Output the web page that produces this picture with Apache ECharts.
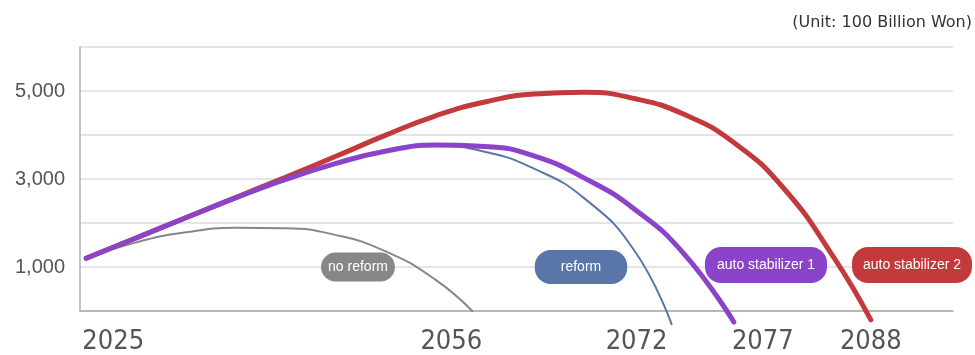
<!DOCTYPE html>
<html lang="en">
<head>
<meta charset="utf-8">
<title>Fund projection</title>
<script src="https://cdn.jsdelivr.net/npm/echarts@6/dist/echarts.min.js"></script>
<style>
	html, body { margin: 0; padding: 0; background: #fff; }
	#main { width: 975px; height: 355px; }
</style>
</head>
<body>
<div id="main"></div>
<script type="text/javascript">
	// values, unit: 100 billion won
	var noReformYears = [2025, 2029, 2033, 2037, 2041, 2045, 2049, 2053, 2056];
	var noReformValues = [1200, 1560, 1790, 1890, 1880, 1730, 1360, 720, 0];

	var reformYears = [2025, 2029, 2033, 2037, 2041, 2045, 2049, 2053, 2057, 2061, 2065, 2069, 2072];
	var reformValues = [1200, 1660, 2120, 2570, 2990, 3350, 3620, 3750, 3620, 3230, 2560, 1380, -300];

	var auto1Years = [2025, 2029, 2033, 2037, 2041, 2045, 2049, 2053, 2057, 2061, 2065, 2069, 2073, 2077];
	var auto1Values = [1200, 1660, 2120, 2570, 2990, 3350, 3630, 3770, 3740, 3520, 3020, 2320, 1300, -250];

	var auto2Years = [2025, 2029, 2033, 2037, 2041, 2045, 2049, 2053, 2057, 2061, 2065, 2069, 2073, 2077, 2081, 2085, 2088];
	var auto2Values = [1200, 1660, 2120, 2580, 3040, 3510, 3990, 4430, 4750, 4930, 4970, 4830, 4470, 3830, 2790, 1230, -200];

	var seriesNames = ['no reform', 'reform', 'auto stabilizer 1', 'auto stabilizer 2'];
	var yearTicks = [2025, 2056, 2072, 2077, 2088];
	var valueTicks = [1000, 3000, 5000];
	var unitText = '(Unit: 100 Billion Won)';

	function pairs(xs, ys) {
		var out = [];
		for (var i = 0; i < xs.length; i++) {
			out.push([xs[i], ys[i]]);
		}
		return out;
	}

	// year labels sit a little off their points in the original
	var nudge = { 2025: 27, 2056: -21, 2072: -35, 2077: 29, 2088: 0 };
	var rich = {};
	yearTicks.forEach(function (y) {
		var d = nudge[y];
		rich['y' + y] = {
			fontSize: 27,
			fontFamily: '"Liberation Sans Narrow", "DejaVu Sans Condensed", sans-serif',
			color: '#555',
			padding: d >= 0 ? [0, 0, 0, 2 * d] : [0, -2 * d, 0, 0]
		};
	});

	var colors = ['#878787', '#5a76a8', '#8a43c9', '#c23a3b'];
	var widths = [2, 2, 5, 5];
	var data = [
		pairs(noReformYears, noReformValues),
		pairs(reformYears, reformValues),
		pairs(auto1Years, auto1Values),
		pairs(auto2Years, auto2Values)
	];

	// draw order: gray, blue, red, purple on top
	var order = [0, 1, 3, 2];
	var series = order.map(function (k) {
		return {
			name: seriesNames[k],
			type: 'line',
			data: data[k],
			smooth: 0.5,
			showSymbol: false,
			clip: false,
			lineStyle: { color: colors[k], width: widths[k], cap: 'round' },
			itemStyle: { color: colors[k] }
		};
	});

	// pill tags, one per scenario
	var pills = [
		{ x: 358, y: 267, pad: [8, 7, 7, 7] },
		{ x: 581, y: 267, pad: [10, 26, 10, 26] },
		{ x: 766, y: 265, pad: [11, 12, 11, 12] },
		{ x: 912, y: 265, pad: [11, 11, 11, 11] }
	];
	var graphics = pills.map(function (p, k) {
		return {
			type: 'text',
			x: p.x,
			y: p.y,
			z: 10,
			style: {
				text: seriesNames[k],
				fill: '#fff',
				fontSize: 14,
				fontFamily: '"Liberation Sans", Arial, sans-serif',
				align: 'center',
				verticalAlign: 'middle',
				backgroundColor: colors[k],
				borderRadius: 16,
				padding: p.pad
			}
		};
	});

	var myChart = echarts.init(document.getElementById('main'));
	var option = {
		backgroundColor: '#fff',
		animation: false,
		title: {
			text: unitText,
			right: 3,
			top: 15,
			padding: 0,
			textStyle: {
				fontSize: 16,
				fontWeight: 'normal',
				fontFamily: '"DejaVu Sans", sans-serif',
				color: '#333'
			}
		},
		grid: { left: 80, right: 22, top: 47, bottom: 44 },
		xAxis: {
			type: 'value',
			min: 2024.5,
			max: 2094.6,
			axisLine: { show: true, lineStyle: { color: '#a8a8a8', width: 1.5 } },
			axisTick: { show: false },
			splitLine: { show: false },
			axisLabel: {
				customValues: yearTicks,
				margin: 17,
				formatter: function (v) {
					return '{y' + v + '|' + v + '}';
				},
				rich: rich
			}
		},
		yAxis: {
			type: 'value',
			min: 0,
			max: 6000,
			interval: 1000,
			axisLine: { show: true, lineStyle: { color: '#b0b0b0', width: 1.5 } },
			axisTick: { show: false },
			splitLine: { lineStyle: { color: '#dcdcdc', width: 1.5 } },
			axisLabel: {
				customValues: valueTicks,
				margin: 15,
				fontSize: 20,
				fontFamily: '"Liberation Sans", Arial, sans-serif',
				color: '#555',
				formatter: function (v) {
					return v.toLocaleString('en-US');
				}
			}
		},
		series: series,
		graphic: graphics
	};
	myChart.setOption(option);
</script>
</body>
</html>
